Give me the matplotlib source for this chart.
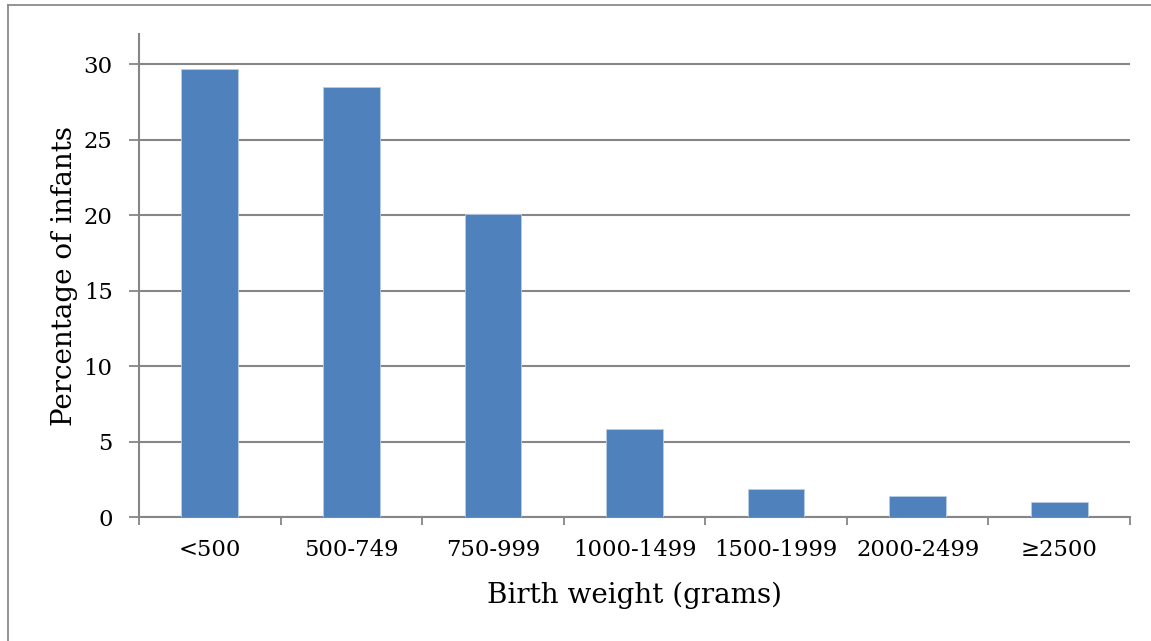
import numpy as np
import matplotlib.pyplot as plt
from matplotlib.lines import Line2D

# --- Data ---
categories = ['<500', '500-749', '750-999', '1000-1499', '1500-1999', '2000-2499', '≥2500']
percentages = [29.7, 28.5, 20.1, 5.85, 1.85, 1.38, 0.98]

plt.rcParams['font.family'] = ['DejaVu Serif']
grid_col = '#868686'

fig = plt.figure(figsize=(11.51, 6.41), dpi=100)
ax = fig.add_axes([139 / 1151, 1 - 517 / 641, (1130 - 139) / 1151, (517 - 34) / 641])

x = np.arange(len(categories))
ax.bar(x, percentages, width=0.4, color='#4F81BD', edgecolor='#B9CDE5', linewidth=0.6, zorder=3)

ax.set_xlim(-0.5, len(categories) - 0.5)
ax.set_ylim(0, 32)
ax.set_yticks(range(0, 31, 5))
ax.set_xticks(x)
ax.set_xticklabels(categories)
ax.set_xticks(np.arange(-0.5, len(categories), 1), minor=True)
ax.tick_params(axis='x', which='major', length=0, pad=16, labelsize=16.4)
ax.tick_params(axis='x', which='minor', length=6, width=1.3, color=grid_col, direction='out')
ax.tick_params(axis='y', length=7, width=1.3, color=grid_col, pad=12, labelsize=16.4)

ax.yaxis.grid(True, color=grid_col, linewidth=1.5, zorder=0)
ax.set_axisbelow(True)
for side in ['top', 'right']:
    ax.spines[side].set_visible(False)
for side in ['left', 'bottom']:
    ax.spines[side].set_color(grid_col)
    ax.spines[side].set_linewidth(1.5)

ax.set_ylabel('Percentage of infants', fontsize=20, labelpad=4)
ax.set_xlabel('Birth weight (grams)', fontsize=20, labelpad=15)

# outer chart border (left and top visible)
fig.add_artist(Line2D([8 / 1151, 8 / 1151], [0, 1 - 5 / 641], transform=fig.transFigure,
                      color='#8a8a8a', linewidth=1.3))
fig.add_artist(Line2D([8 / 1151, 1], [1 - 5 / 641, 1 - 5 / 641], transform=fig.transFigure,
                      color='#8a8a8a', linewidth=1.3))

fig.savefig('out.png', dpi=100)
